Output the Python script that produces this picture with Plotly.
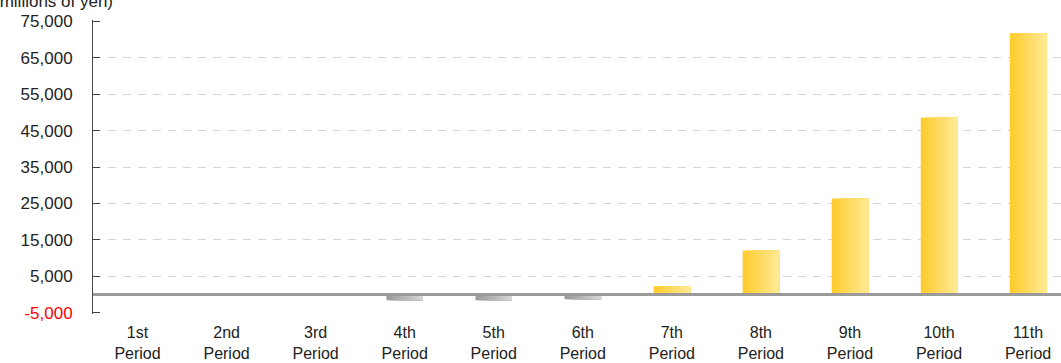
import plotly.graph_objects as go

# ---- data ----
categories = ["1st<br>Period", "2nd<br>Period", "3rd<br>Period", "4th<br>Period",
              "5th<br>Period", "6th<br>Period", "7th<br>Period", "8th<br>Period",
              "9th<br>Period", "10th<br>Period", "11th<br>Period"]
values = [-400, 150, 100, -1550, -1550, -1300, 2250, 12000, 26300, 48500, 71700]

ytick_vals = [-5000, 5000, 15000, 25000, 35000, 45000, 55000, 65000, 75000]
ytick_text = ['<span style="color:#ff0000">-5,000</span>', "5,000", "15,000", "25,000",
              "35,000", "45,000", "55,000", "65,000", "75,000"]
grid_vals = [5000, 15000, 25000, 35000, 45000, 55000, 65000]
unit_label = "(millions of yen)"

# ---- style ----
FONT = "Liberation Sans, Arial, sans-serif"
TXT = "#222222"
pos_left, pos_right = (255, 204, 46), (255, 233, 148)
neg_left, neg_right = (154, 154, 154), (214, 214, 214)
N = 14
BAR_W = 0.41
Y_RANGE = [-5350, 75350]


def mix(a, b, t):
    return "rgb(%d,%d,%d)" % tuple(round(a[k] + (b[k] - a[k]) * t) for k in range(3))


fig = go.Figure()
for i in range(N):
    t = i / (N - 1)
    off = -BAR_W / 2 + i * BAR_W / N
    colors = [mix(pos_left, pos_right, t) if v >= 0 else mix(neg_left, neg_right, t)
              for v in values]
    fig.add_trace(go.Bar(
        x=categories, y=values, offset=off, width=BAR_W / 2 - off,
        marker=dict(color=colors, line=dict(width=0)),
        showlegend=False, hoverinfo="skip" if i < N - 1 else "x+y",
    ))

# empty trace so the tick/label axis is drawn
fig.add_trace(go.Scatter(x=[], y=[], yaxis="y2", showlegend=False, hoverinfo="skip"))

fig.update_layout(
    width=1061, height=363,
    margin=dict(l=93, r=0, t=20, b=49),
    barmode="overlay",
    plot_bgcolor="white", paper_bgcolor="white",
    font=dict(family=FONT, size=17, color=TXT),
    xaxis=dict(
        type="category", range=[-0.5, 10.37],
        showline=False, showgrid=False, zeroline=False, ticks="",
        tickfont=dict(family=FONT, size=16, color=TXT),
        ticklabelstandoff=7,
    ),
    yaxis=dict(
        range=Y_RANGE, autorange=False,
        tickmode="array", tickvals=grid_vals, showticklabels=False, ticks="",
        showgrid=True, gridcolor="#d6d6d6", gridwidth=1, griddash="8px,7px",
        zeroline=False, showline=False,
    ),
    yaxis2=dict(
        overlaying="y", side="left", anchor="x",
        range=Y_RANGE, autorange=False,
        tickmode="array", tickvals=ytick_vals, ticktext=ytick_text,
        ticks="inside", ticklen=7, tickcolor="#444444", tickwidth=1,
        showline=True, linecolor="#444444", linewidth=1,
        showgrid=False, zeroline=False,
        tickfont=dict(family=FONT, size=17, color=TXT),
        ticklabelstandoff=16,
    ),
    shapes=[dict(type="line", xref="paper", x0=0, x1=1, yref="y", y0=0, y1=0,
                 line=dict(color="#9a9a9a", width=3), layer="above")],
    annotations=[dict(text=unit_label, xref="paper", yref="paper",
                      x=(-8 - 93) / 968, y=1 + (20 - 13.5) / 294,
                      xanchor="left", yanchor="bottom", showarrow=False,
                      font=dict(family=FONT, size=17, color=TXT))],
)

fig.write_html("out.html")
